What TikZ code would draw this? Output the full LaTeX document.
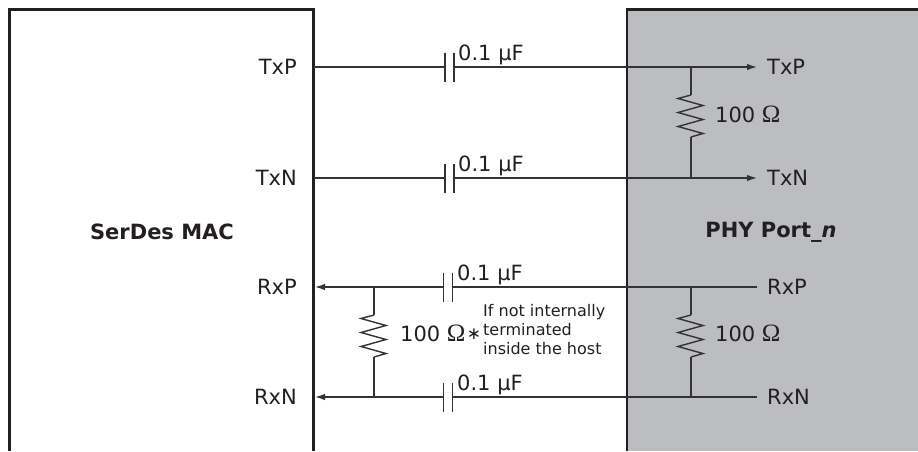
\documentclass[tikz,border=0pt]{standalone}
\usepackage{fontspec}
\setmainfont{DejaVu Sans}
\newfontfamily\omegafont{Liberation Serif}
\usetikzlibrary{arrows.meta}
\definecolor{phygray}{HTML}{BCBDC0}
\definecolor{edgeblack}{HTML}{231F20}
\definecolor{wiregray}{HTML}{333333}
\newcommand\ohm{{\omegafont\fontsize{25}{25}\selectfont Ω}}
\tikzset{
  border/.style={draw=edgeblack, line width=2.4pt},
  wire/.style={draw=wiregray, line width=1.4pt},
  into/.style={wire, -{Latex[length=10pt,width=6.5pt]}},
  sig/.style={font=\fontsize{21}{25}\selectfont, text=edgeblack, inner sep=0pt},
  title/.style={font=\fontsize{21}{25}\selectfont\bfseries, text=edgeblack, inner sep=0pt},
  note/.style={font=\fontsize{16}{19}\selectfont, text=edgeblack, inner sep=0pt, align=left},
  pics/resistor/.style={code={
    \draw[wire] (0,0) -- (-13,3.5) -- (12,10.5) -- (-13,17.5) -- (12,24.5) -- (-13,31.5) -- (12,38.5) -- (0,42);}},
  pics/capacitor/.style={code={
    \draw[wire] (-4.5,-14.5) -- (-4.5,14.5);
    \draw[wire] (4.5,-14.5) -- (4.5,14.5);}}
}
\begin{document}
\begin{tikzpicture}[x=1pt,y=-1pt]
\useasboundingbox (0,0) rectangle (918,451);
% boxes
\fill[phygray] (627,9.5) rectangle (918,451);
\draw[border] (9.5,451) -- (9.5,9.5) -- (313.5,9.5) -- (313.5,451);
\draw[border] (627,451) -- (627,9.5) -- (918,9.5);

% titles
\node[title] (mac) at (162,232) {SerDes MAC};
\node[title] (phy) at (771,232) {PHY Port\_\textit{n}};

% left labels
\node[sig, anchor=east] (ltxp) at (297,67) {TxP};
\node[sig, anchor=east] (ltxn) at (297,178) {TxN};
\node[sig, anchor=east] (lrxp) at (297,287) {RxP};
\node[sig, anchor=east] (lrxn) at (297,397) {RxN};
% right labels
\node[sig, anchor=west] (rtxp) at (767,67) {TxP};
\node[sig, anchor=west] (rtxn) at (767,178) {TxN};
\node[sig, anchor=west] (rrxp) at (767,287) {RxP};
\node[sig, anchor=west] (rrxn) at (767,397) {RxN};

% wire coordinates
\coordinate (m1) at (313.5,67);  \coordinate (c1a) at (445,67); \coordinate (c1b) at (454,67); \coordinate (p1) at (757,67);
\coordinate (m2) at (313.5,178); \coordinate (c2a) at (445,178); \coordinate (c2b) at (454,178); \coordinate (p2) at (757,178);
\coordinate (m3) at (315,287);   \coordinate (c3a) at (443,287); \coordinate (c3b) at (453,287); \coordinate (p3) at (757,287);
\coordinate (m4) at (315,397);   \coordinate (c4a) at (443,397); \coordinate (c4b) at (453,397); \coordinate (p4) at (757,397);

% Tx wires
\draw[wire] (m1) -- (c1a);
\pic at (449.5,67) {capacitor};
\draw[into] (c1b) -- (p1);
\draw[wire] (m2) -- (c2a);
\pic at (449.5,178) {capacitor};
\draw[into] (c2b) -- (p2);
% Rx wires
\draw[wire] (p3) -- (c3b);
\pic at (448,287) {capacitor};
\draw[into] (c3a) -- (m3);
\draw[wire] (p4) -- (c4b);
\pic at (448,397) {capacitor};
\draw[into] (c4a) -- (m4);

% capacitor labels
\node[sig, anchor=base west] (cl1) at (458,60) {0.1 μF};
\node[sig, anchor=base west] (cl2) at (458,171) {0.1 μF};
\node[sig, anchor=base west] (cl3) at (457,280) {0.1 μF};
\node[sig, anchor=base west] (cl4) at (457,390) {0.1 μF};

% Tx termination (PHY)
\coordinate (rt1) at (691,67); \coordinate (rt1z) at (691,95); \coordinate (rt1e) at (691,137); \coordinate (rt1b) at (691,178);
\draw[wire] (rt1) -- (rt1z);
\pic at (rt1z) {resistor};
\draw[wire] (rt1e) -- (rt1b);
\node[sig, anchor=west] (rv1) at (715,114) {100 \ohm};

% Rx termination (PHY)
\coordinate (rt2) at (691,287); \coordinate (rt2z) at (691,315); \coordinate (rt2e) at (691,357); \coordinate (rt2b) at (691,397);
\draw[wire] (rt2) -- (rt2z);
\pic at (rt2z) {resistor};
\draw[wire] (rt2e) -- (rt2b);
\node[sig, anchor=west] (rv2) at (715,333) {100 \ohm};

% Rx termination (host)
\coordinate (rt3) at (374,287); \coordinate (rt3z) at (374,315); \coordinate (rt3e) at (374,357); \coordinate (rt3b) at (374,397);
\draw[wire] (rt3) -- (rt3z);
\pic at (rt3z) {resistor};
\draw[wire] (rt3e) -- (rt3b);
\node[sig, anchor=west] (rv3) at (400,333) {100 \ohm};
\node[sig, anchor=center, font=\fontsize{17}{17}\selectfont] (ast) at (474,334) {∗};
\node[note, anchor=west] (nt) at (483,330) {If not internally\\terminated\\inside the host};
\end{tikzpicture}
\end{document}
